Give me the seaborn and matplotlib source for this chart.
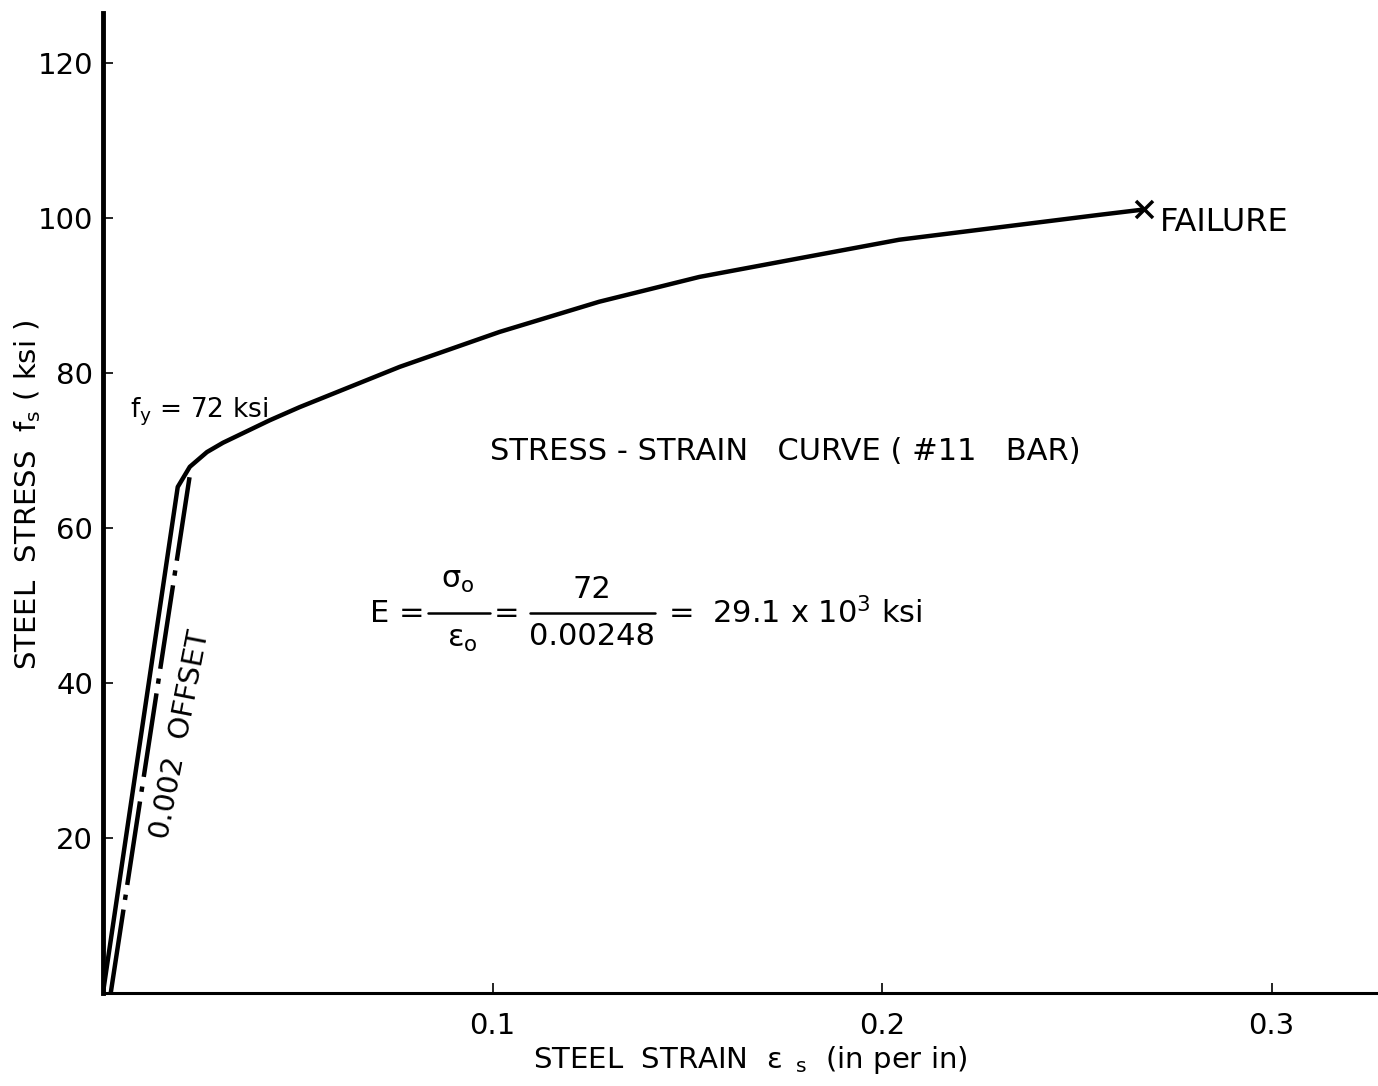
import matplotlib
matplotlib.use("Agg")
import matplotlib.pyplot as plt
import seaborn as sns
import pandas as pd

# ---- data ----
strain = [0.0, 0.0192, 0.0223, 0.0267, 0.0308, 0.0428, 0.0505, 0.0762, 0.1018,
          0.1274, 0.1531, 0.1787, 0.2044, 0.2300, 0.2556, 0.2672]
stress = [0.0, 65.3, 67.9, 69.8, 71.0, 73.9, 75.6, 80.8, 85.3,
          89.2, 92.4, 94.8, 97.2, 98.8, 100.4, 101.1]
offset_strain = [0.002, 0.0223]
offset_stress = [0.0, 66.8]
failure_strain = [strain[-1]]
failure_stress = [stress[-1]]
xticks = [0.1, 0.2, 0.3]
xtick_labels = ["0.1", "0.2", "0.3"]
yticks = [20, 40, 60, 80, 100, 120]
ytick_labels = ["20", "40", "60", "80", "100", "120"]

sns.set_theme(style="ticks")
plt.rcParams["font.family"] = ["DejaVu Sans"]
plt.rcParams["mathtext.default"] = "regular"
plt.rcParams["xtick.direction"] = "in"
plt.rcParams["ytick.direction"] = "in"

fig = plt.figure(figsize=(13.78, 10.86), dpi=100)
ax = fig.add_axes([0.0747, 0.0856, 0.9253, 0.9024])

curve = pd.DataFrame({"strain": strain, "stress": stress})
off = pd.DataFrame({"strain": offset_strain, "stress": offset_stress})

sns.lineplot(data=curve, x="strain", y="stress", sort=False, estimator=None,
             color="black", linewidth=3.2, ax=ax)
sns.lineplot(data=off, x="strain", y="stress", sort=False, estimator=None,
             color="black", linewidth=3.2, ax=ax)
ax.lines[-1].set_dashes((19, 2.2, 1.2, 2.2))
sns.scatterplot(x=failure_strain, y=failure_stress, marker="x", s=150,
                color="black", linewidth=2.5, ax=ax, zorder=5)

ax.set_xlim(0, 0.3273)
ax.set_ylim(0, 126.45)
ax.set_xticks(xticks)
ax.set_xticklabels(xtick_labels)
ax.set_yticks(yticks)
ax.set_yticklabels(ytick_labels)
ax.tick_params(axis="both", direction="in", length=7, width=1.2, labelsize=21,
               colors="black")
ax.tick_params(axis="x", pad=14)
ax.tick_params(axis="y", pad=7)

sns.despine(ax=ax)
ax.spines["left"].set_linewidth(3.5)
ax.spines["bottom"].set_linewidth(2.2)
ax.spines["left"].set_color("black")
ax.spines["bottom"].set_color("black")

ax.set_xlabel("STEEL  STRAIN  $\\varepsilon_{\\ \\ s}$  (in per in)", fontsize=21,
              color="black")
ax.xaxis.set_label_coords(0.508, -0.052)
ax.set_ylabel("STEEL  STRESS  f$_{s}$ ( ksi )", fontsize=21, color="black")
ax.yaxis.set_label_coords(-0.047, 0.508)

txt = dict(color="black", fontsize=22)
ax.text(0.0069, 75.0, "f$_y$ = 72 ksi", ha="left", va="center", fontsize=19,
        color="black")
ax.text(0.1751, 69.9, "STRESS - STRAIN   CURVE ( #11   BAR)", ha="center",
        va="center", **txt)
ax.text(0.2714, 99.4, "FAILURE", ha="left", va="center", color="black",
        fontsize=23)
ax.text(0.0200, 33.3, "0.002  OFFSET", ha="center", va="center",
        rotation=79, color="black", fontsize=21)

# formula E = sigma_o/eps_o = 72/0.00248 = 29.1 x 10^3 ksi
yb = (993 - 613) / 7.75
def px(p):
    return (p - 103) / 3895.0
ax.text(px(370), yb, "E =", ha="left", va="center", **txt)
ax.plot([px(428), px(490)], [yb, yb], color="black", lw=1.8)
ax.text(px(458), yb + 2.3, "σ$_o$", ha="center", va="bottom", **txt)
ax.text(px(462), yb - 1.6, "ε$_o$", ha="center", va="top", **txt)
ax.text(px(494), yb, "=", ha="left", va="center", **txt)
ax.plot([px(530), px(655)], [yb, yb], color="black", lw=1.8)
ax.text(px(592), yb + 1.2, "72", ha="center", va="bottom", **txt)
ax.text(px(592), yb - 1.2, "0.00248", ha="center", va="top", **txt)
ax.text(px(668), yb, "=  29.1 x 10$^3$ ksi", ha="left", va="center", **txt)

fig.savefig("out.png", dpi=100, facecolor="white")
